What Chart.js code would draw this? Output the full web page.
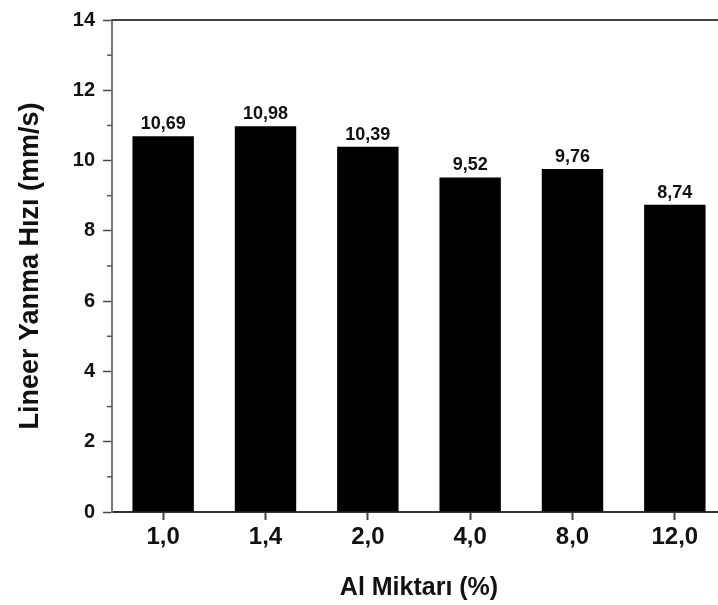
<!DOCTYPE html>
<html>
<head>
<meta charset="utf-8">
<script src="https://cdn.jsdelivr.net/npm/chart.js@4.4.1/dist/chart.umd.min.js"></script>
<style>
  html, body { margin: 0; padding: 0; background: #fff; overflow: hidden; }
  #wrap { width: 726px; height: 605px; }
</style>
</head>
<body>
<div id="wrap"><canvas id="barChart" width="726" height="605"></canvas></div>
<script>
const categories = ['1,0', '1,4', '2,0', '4,0', '8,0', '12,0'];
const burnRates = [10.69, 10.98, 10.39, 9.52, 9.76, 8.74];
const yTicks = [0, 2, 4, 6, 8, 10, 12, 14];
const minorTicks = [1, 3, 5, 7, 9, 11, 13];

const FONT = "'Liberation Sans', Arial, sans-serif";

// etiquetas de valor sobre as barras
const valueLabels = {
    id: 'valueLabels',
    afterDatasetsDraw(chart) {
        const ctx = chart.ctx;
        const meta = chart.getDatasetMeta(0);
        ctx.save();
        ctx.font = 'bold 18px ' + FONT;
        ctx.fillStyle = '#111';
        ctx.textAlign = 'center';
        ctx.textBaseline = 'alphabetic';
        meta.data.forEach((bar, i) => {
            ctx.fillText(burnRates[i].toFixed(2).replace('.', ','), bar.x, bar.y - 7);
        });
        ctx.restore();
    }
};

// linha superior e ticks menores
const frame = {
    id: 'frame',
    afterDraw(chart) {
        const ctx = chart.ctx;
        const area = chart.chartArea;
        const y = chart.scales.y;
        ctx.save();
        ctx.strokeStyle = '#444';
        ctx.lineWidth = 2;
        ctx.beginPath();
        ctx.moveTo(area.left, area.top);
        ctx.lineTo(area.right, area.top);
        ctx.stroke();
        ctx.strokeStyle = '#555';
        ctx.lineWidth = 1.5;
        minorTicks.forEach(v => {
            const py = y.getPixelForValue(v);
            ctx.beginPath();
            ctx.moveTo(area.left - 5, py);
            ctx.lineTo(area.left, py);
            ctx.stroke();
        });
        ctx.restore();
    }
};

const ctx = document.getElementById('barChart').getContext('2d');
new Chart(ctx, {
    type: 'bar',
    data: {
        labels: categories,
        datasets: [{
            label: 'Lineer Yanma Hızı',
            data: burnRates,
            backgroundColor: '#000',
            borderWidth: 0,
            barPercentage: 0.6,
            categoryPercentage: 1.0
        }]
    },
    options: {
        responsive: false,
        animation: false,
        layout: { padding: { top: 18, left: 0, right: 0, bottom: 0 } },
        plugins: {
            legend: { display: false },
            tooltip: { enabled: false }
        },
        scales: {
            x: {
                afterFit(scale) { scale.height = 93; },
                grid: {
                    display: true,
                    offset: false,
                    drawOnChartArea: false,
                    drawTicks: true,
                    tickLength: 8,
                    tickWidth: 2,
                    tickColor: '#444'
                },
                border: { display: true, color: '#333', width: 2 },
                ticks: {
                    color: '#111',
                    padding: 3,
                    font: { family: FONT, size: 24, weight: 'bold' }
                },
                title: {
                    display: true,
                    text: 'Al Miktarı (%)',
                    color: '#111',
                    padding: { top: 0, bottom: 2 },
                    font: { family: FONT, size: 25, weight: 'bold' }
                }
            },
            y: {
                min: 0,
                max: 14,
                afterFit(scale) { scale.width = 112; },
                afterBuildTicks(scale) {
                    scale.ticks = yTicks.map(v => ({ value: v }));
                },
                grid: {
                    display: true,
                    drawOnChartArea: false,
                    drawTicks: true,
                    tickLength: 9,
                    tickWidth: 1.5,
                    tickColor: '#444'
                },
                border: { display: true, color: '#777', width: 2 },
                ticks: {
                    color: '#111',
                    padding: 8,
                    font: { family: FONT, size: 20, weight: 'bold' }
                },
                title: {
                    display: true,
                    text: 'Lineer Yanma Hızı (mm/s)',
                    color: '#111',
                    padding: { top: 14, bottom: 0 },
                    font: { family: FONT, size: 27, weight: 'bold' }
                }
            }
        }
    },
    plugins: [valueLabels, frame]
});
</script>
</body>
</html>
